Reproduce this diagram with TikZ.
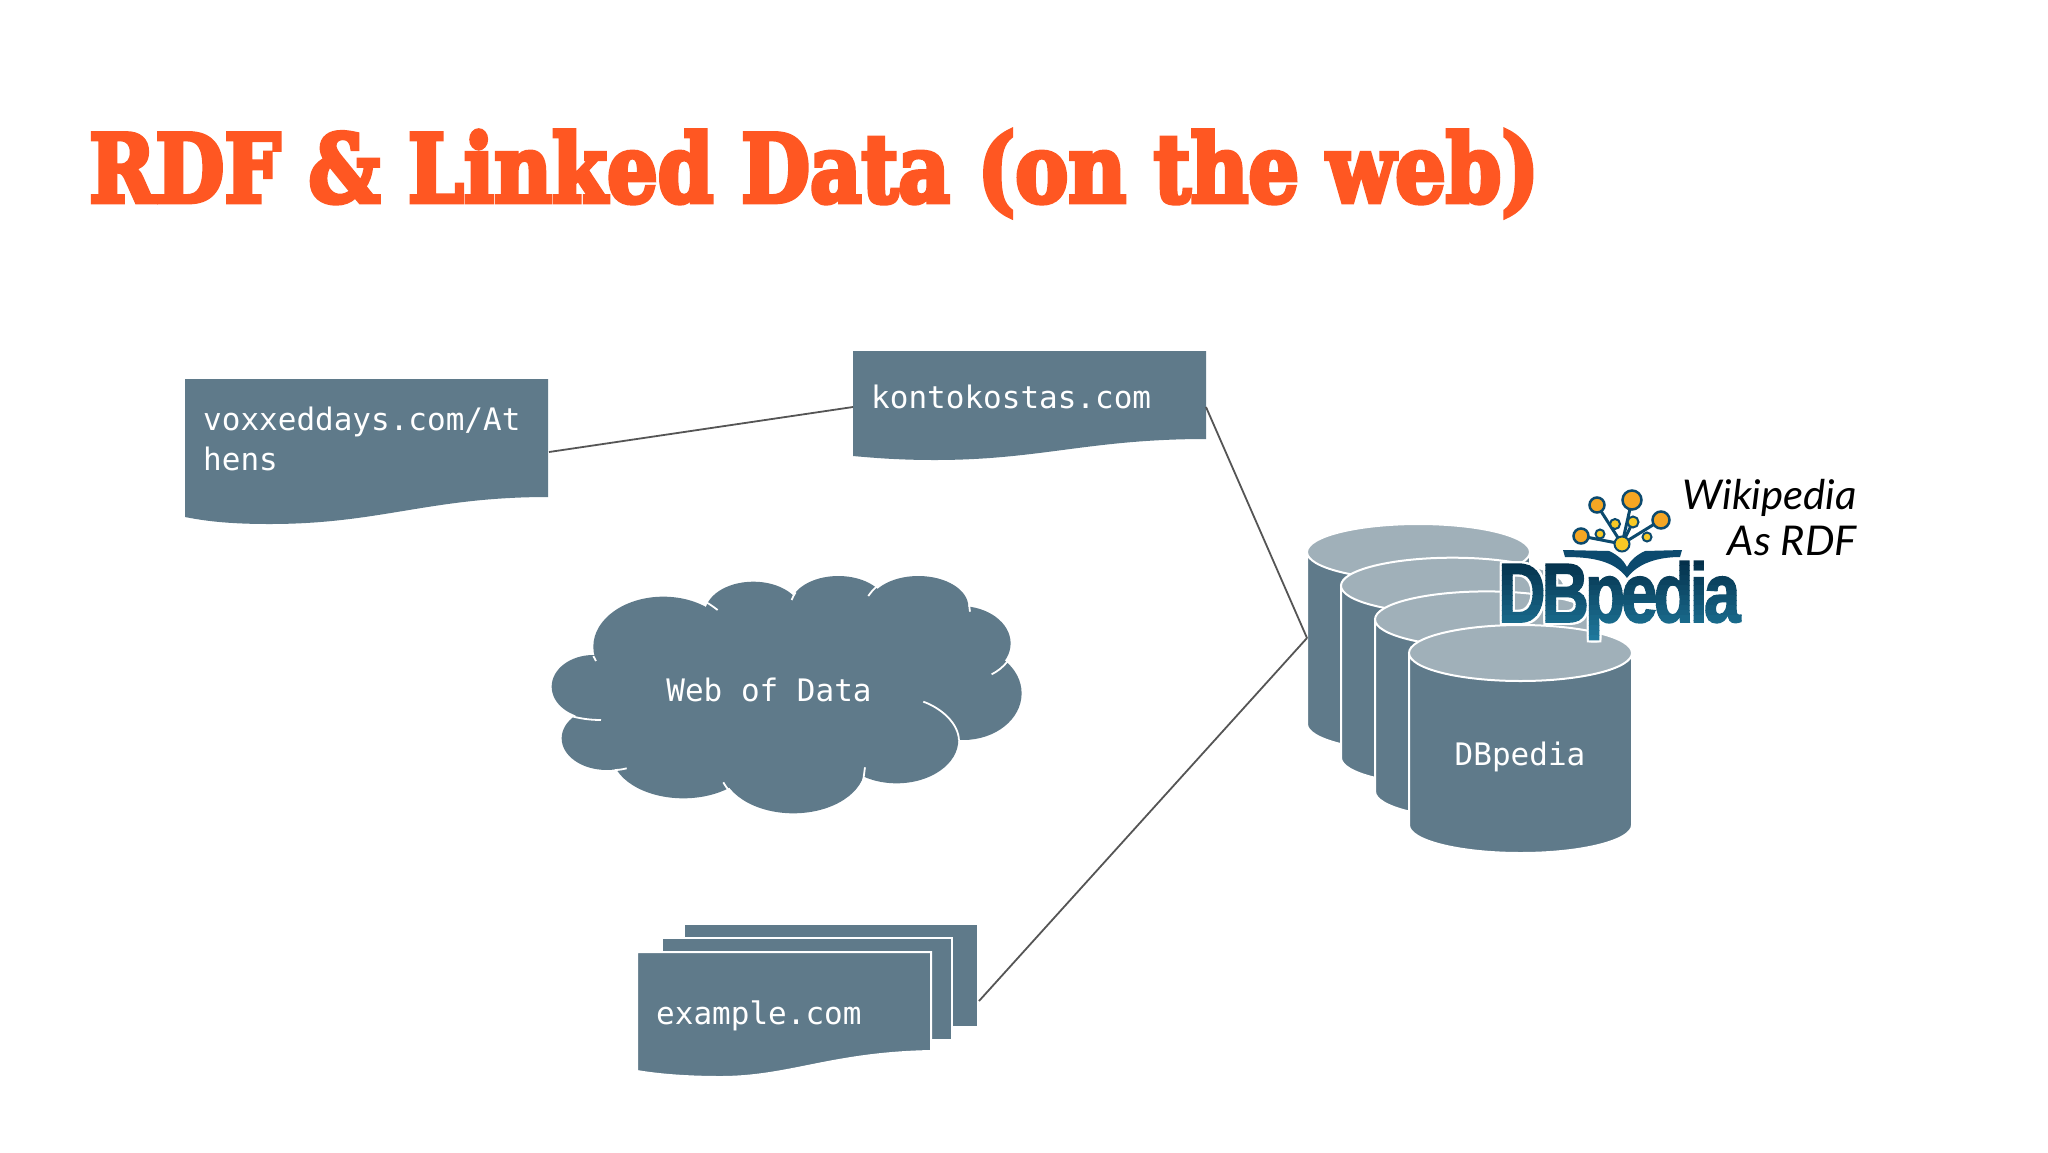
\documentclass[tikz,border=0pt]{standalone}
\usepackage{fontspec}
\usepackage{graphicx}
\newfontfamily\titlefont[BoldFeatures={FakeBold=5}]{DejaVu Serif}
\newfontfamily\monofont{DejaVu Sans Mono}
\newfontfamily\noteFont{Lato}
\newfontfamily\logofont[LetterSpace=-6,BoldFeatures={FakeBold=2}]{Liberation Sans}
\definecolor{slatefill}{HTML}{5F7A8A}
\definecolor{slatetop}{HTML}{A0B0B9}
\definecolor{titleorange}{HTML}{FF5722}
\definecolor{linkgrey}{HTML}{555555}
\definecolor{logotop}{HTML}{04304A}
\definecolor{logobot}{HTML}{1F7A9E}
\definecolor{logoink}{HTML}{0C4A6E}
\definecolor{iconorange}{HTML}{F5A623}
\definecolor{iconyellow}{HTML}{F7C925}
\tikzset{
  shapefill/.style={fill=slatefill,draw=none},
  sheet/.style={fill=slatefill,draw=white,line width=2pt},
  monolabel/.style={text=white,font=\monofont\fontsize{31}{40}\selectfont,inner sep=0pt},
  link/.style={draw=linkgrey,line width=1.8pt},
  crack/.style={draw=white,line width=1.8pt},
  iconline/.style={draw=logoink,line width=3pt},
  iconbig/.style={fill=iconorange,draw=logoink,line width=2.5pt},
  iconsmall/.style={fill=iconyellow,draw=logoink,line width=2pt},
  logotext/.style={font=\logofont\bfseries\fontsize{84}{84}\selectfont,inner sep=0pt,anchor=base west},
  notetext/.style={anchor=base east,inner sep=0pt,font=\noteFont\itshape\fontsize{41}{41}\selectfont,text=black},
}
\begin{document}
\begin{tikzpicture}[x=1pt,y=-1pt]
\useasboundingbox[fill=white] (0,0) rectangle (2048,1152);

% title
\node[anchor=base west,inner sep=0pt,text=titleorange,font=\titlefont\bfseries\fontsize{94}{94}\selectfont] (title) at (89,202) {\resizebox{1450pt}{\height}{RDF \& Linked Data (on the web)}};

% documents
\path[shapefill] (185,379) -- (548,379) -- (548,497) .. controls (430,497) and (380,524) .. (270,524) .. controls (235,524) and (210,522) .. (185,517) -- cycle;
\node[monolabel,anchor=north west,align=left] (voxlabel) at (203,407) {voxxeddays.com/At\\hens};
\coordinate (voxright) at (549,452);

\path[shapefill] (853,351) -- (1206,351) -- (1206,439) .. controls (1090,439) and (1040,460) .. (935,460) .. controls (900,460) and (875,458) .. (853,456) -- cycle;
\node[monolabel,anchor=base west] (kontolabel) at (871,408) {kontokostas.com};
\coordinate (kontoleft) at (853,407);
\coordinate (kontoright) at (1206,407);

% stacked documents
\path[shapefill] (685,925) rectangle (977,1026);
\path[sheet] (662,938) rectangle (952,1040);
\path[sheet] (637,952) -- (931,952) -- (931,1051) .. controls (830,1053) and (790,1077) .. (720,1077) .. controls (690,1077) and (660,1075) .. (637,1071) -- cycle;
\node[monolabel,anchor=base west] (examplelabel) at (656,1024) {example.com};
\coordinate (stackright) at (979,1001);

% cloud
\begin{scope}[shift={(530,550)},x=0.3333pt,y=-0.3333pt]
\foreach \cx/\cy/\rx/\ry in {400/290/210/150,670/190/145/95,925/170/145/92,1165/170/150/92,1290/280/152/112,1300/430/175/140,1100/570/185/130,790/650/215/140,460/610/215/135,230/565/135/95,190/410/125/95,740/400/500/250}
  \path[shapefill] (\cx,\cy) ellipse[x radius=\rx,y radius=\ry];
\draw[crack] (190,318) -- (198,333);
\draw[crack] (525,155) .. controls (540,162) and (552,172) .. (563,180);
\draw[crack] (785,150) .. controls (788,142) and (792,134) .. (797,127);
\draw[crack] (1015,138) .. controls (1022,128) and (1030,118) .. (1040,110);
\draw[crack] (1318,168) -- (1320,185);
\draw[crack] (1432,335) .. controls (1420,350) and (1405,363) .. (1385,373);
\draw[crack] (1180,455) .. controls (1235,475) and (1285,520) .. (1287,570);
\draw[crack] (1005,652) -- (1000,690);
\draw[crack] (580,697) .. controls (586,708) and (595,720) .. (605,730);
\draw[crack] (290,655) .. controls (278,658) and (266,660) .. (255,660);
\draw[crack] (130,500) .. controls (158,507) and (185,510) .. (213,510);
\end{scope}
\node[monolabel] (cloudlabel) at (769,690) {Web of Data};

% cylinders
\foreach \i/\dx/\dy in {1/0/0,2/34/33.7,3/68/67.4,4/102/101}{
  \begin{scope}[shift={(\dx,\dy)}]
    \path[fill=slatefill,draw=white,line width=2pt] (1307,552) -- (1307,724) arc[start angle=180,end angle=0,x radius=111.5,y radius=28] -- (1530,552) -- cycle;
    \path[fill=slatetop,draw=white,line width=2pt] (1418.5,552) ellipse[x radius=111.5,y radius=28];
  \end{scope}
}
\node[monolabel] (cyllabel) at (1520,757) {DBpedia};
\coordinate (cylleft) at (1307,638);

% connectors
\draw[link] (voxright) -- (kontoleft);
\draw[link] (kontoright) -- (cylleft);
\draw[link] (stackright) -- (cylleft);

% DBpedia logo icon
\coordinate (ihub) at (1622,544);
\foreach \px/\py in {1632/500,1597/505,1661/520,1581/536}
  \draw[iconline] (ihub) -- (\px,\py);
\draw[iconline] (ihub) -- (1633,522);
\node[iconbig,circle,minimum size=19pt,inner sep=0pt] (i1) at (1632,500) {};
\node[iconbig,circle,minimum size=15pt,inner sep=0pt] (i2) at (1597,505) {};
\node[iconbig,circle,minimum size=17pt,inner sep=0pt] (i3) at (1661,520) {};
\node[iconbig,circle,minimum size=15pt,inner sep=0pt] (i4) at (1581,536) {};
\node[iconsmall,circle,minimum size=10pt,inner sep=0pt] (i5) at (1615,524) {};
\node[iconsmall,circle,minimum size=11pt,inner sep=0pt] (i6) at (1633,522) {};
\node[iconsmall,circle,minimum size=9pt,inner sep=0pt] (i7) at (1600,534) {};
\node[iconsmall,circle,minimum size=9pt,inner sep=0pt] (i8) at (1647,537) {};
\node[iconsmall,circle,minimum size=15pt,inner sep=0pt] (i9) at (1622,544) {};
\path[fill=logoink] (1563,550) -- (1609,551) .. controls (1618,555) and (1624,561) .. (1627,567) .. controls (1630,561) and (1636,555) .. (1645,551) -- (1682,550) -- (1680,557) .. controls (1665,557) and (1640,560) .. (1627,578) .. controls (1614,560) and (1590,557) .. (1565,557) -- cycle;

% DBpedia logo lettering: white halo, then colour bands
\foreach \ox/\oy [count=\n] in {-2/0,2/0,0/-2,0/2,-2/-2,2/2,-2/2,2/-2}
  \node[logotext,text=white] (halo\n) at (1498+\ox,622+\oy) {\scalebox{0.78}[1]{DBpedia}};
\foreach \b in {0,...,15}{
  \pgfmathsetmacro\bandtop{560+\b*5}
  \pgfmathsetmacro\bandbot{565.5+\b*5}
  \pgfmathsetmacro\mixv{max(0,100-\b*6.5)}
  \begin{scope}
    \clip (1490,\bandtop) rectangle (1760,\bandbot);
    \node[logotext,text={logotop!\mixv!logobot}] (band\b) at (1498,622) {\scalebox{0.78}[1]{DBpedia}};
  \end{scope}
}

% note
\node[notetext] (note1) at (1857,509) {\scalebox{1.02}[1]{Wikipedia}};
\node[notetext] (note2) at (1857,555) {\scalebox{1.02}[1]{As RDF}};
\end{tikzpicture}
\end{document}
